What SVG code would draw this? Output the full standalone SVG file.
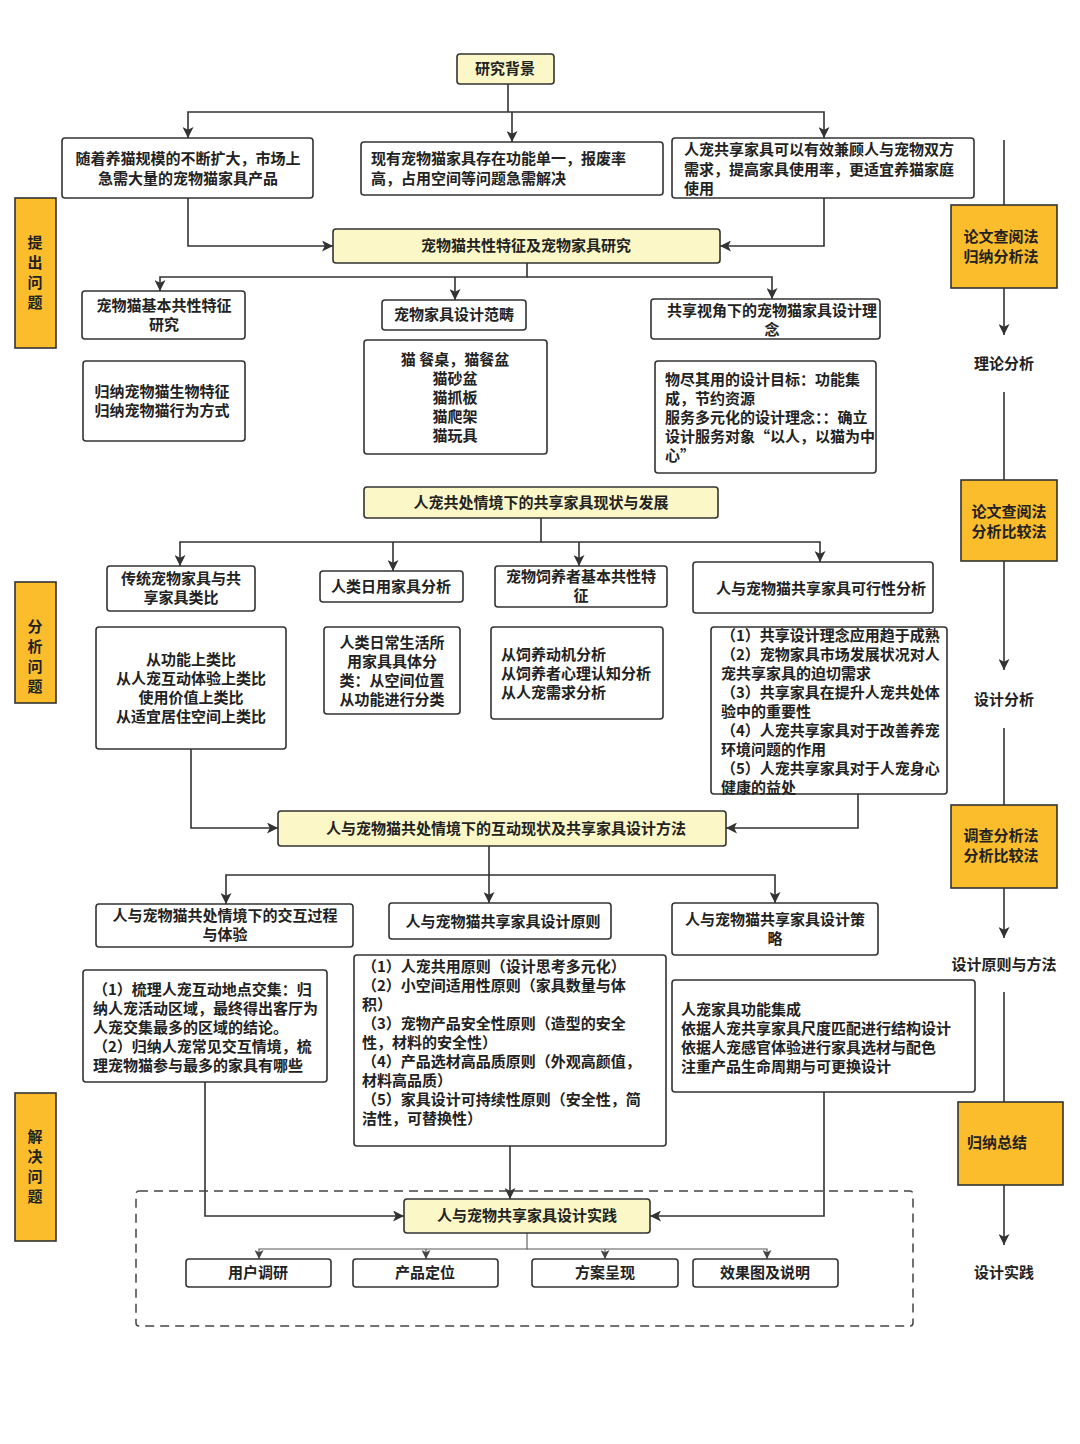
<svg xmlns="http://www.w3.org/2000/svg" width="1080" height="1444" viewBox="0 0 1080 1444">
<defs>
<style>
.bg{fill:#ffffff}
.box{fill:#ffffff;stroke:#333333;stroke-width:1.6}
.key{fill:#fbf7c6;stroke:#333333;stroke-width:1.6}
.side{fill:#fbbd2c;stroke:#333333;stroke-width:1.6}
.dash{fill:none;stroke:#444444;stroke-width:1.5;stroke-dasharray:9 6}
.ln{fill:none;stroke:#333333;stroke-width:1.6}
.ln2{fill:none;stroke:#555555;stroke-width:1.1}
text{font-family:"Noto Sans CJK SC","Noto Sans",sans-serif;font-weight:700;font-size:15px;fill:#222222}
.c{text-anchor:middle}
.s{font-size:15px}
</style>
<marker id="ah" viewBox="0 0 10 10" refX="10" refY="5" markerWidth="11" markerHeight="11" markerUnits="userSpaceOnUse" orient="auto">
<path d="M0,0 L10,5 L0,10 L2.5,5 z" fill="#333333"/>
</marker>
<marker id="ahs" viewBox="0 0 10 10" refX="10" refY="5" markerWidth="9" markerHeight="9" markerUnits="userSpaceOnUse" orient="auto">
<path d="M0,0 L10,5 L0,10 L2.5,5 z" fill="#444444"/>
</marker>
</defs>
<rect class="bg" x="0" y="0" width="1080" height="1444"/>

<g id="connectors">
<path class="ln" d="M508,84 V112"/>
<path class="ln" d="M508,112 H188 V138" marker-end="url(#ah)"/>
<path class="ln" d="M512,112 V142" marker-end="url(#ah)"/>
<path class="ln" d="M508,112 H824 V138" marker-end="url(#ah)"/>
<path class="ln" d="M188,198 V246 H333" marker-end="url(#ah)"/>
<path class="ln" d="M824,198 V246 H720" marker-end="url(#ah)"/>
<path class="ln" d="M527,263 V277 H160 V291" marker-end="url(#ah)"/>
<path class="ln" d="M455,277 V300" marker-end="url(#ah)"/>
<path class="ln" d="M527,277 H772 V299" marker-end="url(#ah)"/>
<path class="ln" d="M541,518 V542 H180 V566" marker-end="url(#ah)"/>
<path class="ln" d="M393,542 V571" marker-end="url(#ah)"/>
<path class="ln" d="M579,542 V566" marker-end="url(#ah)"/>
<path class="ln" d="M541,542 H820 V562" marker-end="url(#ah)"/>
<path class="ln" d="M191,749 V828 H278" marker-end="url(#ah)"/>
<path class="ln" d="M858,794 V828 H726" marker-end="url(#ah)"/>
<path class="ln" d="M489,846 V875 H226 V904" marker-end="url(#ah)"/>
<path class="ln" d="M489,875 V903" marker-end="url(#ah)"/>
<path class="ln" d="M489,875 H775 V903" marker-end="url(#ah)"/>
<path class="ln" d="M205,1082 V1216 H404" marker-end="url(#ah)"/>
<path class="ln" d="M510,1146 V1199" marker-end="url(#ah)"/>
<path class="ln" d="M824,1092 V1216 H650" marker-end="url(#ah)"/>
<path class="ln2" d="M527,1233 V1249 H259 V1259" marker-end="url(#ahs)"/>
<path class="ln2" d="M426,1249 V1259" marker-end="url(#ahs)"/>
<path class="ln2" d="M605,1249 V1259" marker-end="url(#ahs)"/>
<path class="ln2" d="M527,1249 H767 V1259" marker-end="url(#ahs)"/>
<path class="ln" d="M1004,140 V205"/>
<path class="ln" d="M1004,288 V335" marker-end="url(#ah)"/>
<path class="ln" d="M1004,392 V480"/>
<path class="ln" d="M1004,561 V670" marker-end="url(#ah)"/>
<path class="ln" d="M1004,728 V805"/>
<path class="ln" d="M1004,888 V938" marker-end="url(#ah)"/>
<path class="ln" d="M1004,992 V1102"/>
<path class="ln" d="M1004,1185 V1245" marker-end="url(#ah)"/>
</g>

<g id="practice-area">
<rect class="dash" x="136" y="1191" width="777" height="135" rx="3"/>
</g>

<g id="n-background">
<rect class="key" x="457" y="54" width="97" height="30" rx="3"/>
<text class="c" x="505" y="74">研究背景</text>
</g>
<g id="n-bg1">
<rect class="box" x="62" y="138" width="251" height="60" rx="3"/>
<text class="c" x="188" y="164">随着养猫规模的不断扩大，市场上</text>
<text class="c" x="188" y="184">急需大量的宠物猫家具产品</text>
</g>
<g id="n-bg2">
<rect class="box" x="361" y="142" width="302" height="53" rx="3"/>
<text x="371" y="164">现有宠物猫家具存在功能单一，报废率</text>
<text x="371" y="184">高，占用空间等问题急需解决</text>
</g>
<g id="n-bg3">
<rect class="box" x="672" y="138" width="302" height="60" rx="3"/>
<text x="684" y="155">人宠共享家具可以有效兼顾人与宠物双方</text>
<text x="684" y="175">需求，提高家具使用率，更适宜养猫家庭</text>
<text x="684" y="194">使用</text>
</g>
<g id="n-main1">
<rect class="key" x="333" y="229" width="387" height="34" rx="3"/>
<text class="c" x="526" y="251">宠物猫共性特征及宠物家具研究</text>
</g>
<g id="n-a1">
<rect class="box" x="82" y="291" width="163" height="48" rx="3"/>
<text class="c" x="164" y="311">宠物猫基本共性特征</text>
<text class="c" x="164" y="330">研究</text>
</g>
<g id="n-a2">
<rect class="box" x="382" y="300" width="144" height="30" rx="3"/>
<text class="c" x="454" y="320">宠物家具设计范畴</text>
</g>
<g id="n-a3">
<rect class="box" x="651" y="299" width="229" height="40" rx="3"/>
<text class="c" x="772" y="316">共享视角下的宠物猫家具设计理</text>
<text class="c" x="772" y="335">念</text>
</g>
<g id="n-a1c">
<rect class="box" x="83" y="361" width="162" height="80" rx="3"/>
<text class="c" x="162" y="397">归纳宠物猫生物特征</text>
<text class="c" x="162" y="416">归纳宠物猫行为方式</text>
</g>
<g id="n-a2c">
<rect class="box" x="364" y="340" width="183" height="114" rx="3"/>
<text class="c" x="455" y="365">猫 餐桌，猫餐盆</text>
<text class="c" x="455" y="384">猫砂盆</text>
<text class="c" x="455" y="403">猫抓板</text>
<text class="c" x="455" y="422">猫爬架</text>
<text class="c" x="455" y="441">猫玩具</text>
</g>
<g id="n-a3c">
<rect class="box" x="655" y="361" width="221" height="112" rx="3"/>
<text x="665" y="385">物尽其用的设计目标：功能集</text>
<text x="665" y="404">成，节约资源</text>
<text x="665" y="423">服务多元化的设计理念：：确立</text>
<text x="665" y="442">设计服务对象“以人，以猫为中</text>
<text x="665" y="461">心”</text>
</g>
<g id="n-main2">
<rect class="key" x="364" y="487" width="354" height="31" rx="3"/>
<text class="c" x="541" y="508">人宠共处情境下的共享家具现状与发展</text>
</g>
<g id="n-b1">
<rect class="box" x="107" y="566" width="148" height="45" rx="3"/>
<text class="c" x="181" y="584">传统宠物家具与共</text>
<text class="c" x="181" y="603">享家具类比</text>
</g>
<g id="n-b2">
<rect class="box" x="320" y="571" width="143" height="31" rx="3"/>
<text class="c" x="391" y="592">人类日用家具分析</text>
</g>
<g id="n-b3">
<rect class="box" x="495" y="566" width="172" height="41" rx="3"/>
<text class="c" x="581" y="582">宠物饲养者基本共性特</text>
<text class="c" x="581" y="601">征</text>
</g>
<g id="n-b4">
<rect class="box" x="693" y="562" width="240" height="51" rx="3"/>
<text class="c" x="821" y="594">人与宠物猫共享家具可行性分析</text>
</g>
<g id="n-b1c">
<rect class="box" x="96" y="627" width="190" height="122" rx="3"/>
<text class="c" x="191" y="665">从功能上类比</text>
<text class="c" x="191" y="684">从人宠互动体验上类比</text>
<text class="c" x="191" y="703">使用价值上类比</text>
<text class="c" x="191" y="722">从适宜居住空间上类比</text>
</g>
<g id="n-b2c">
<rect class="box" x="324" y="627" width="136" height="87" rx="3"/>
<text class="c" x="392" y="648">人类日常生活所</text>
<text class="c" x="392" y="667">用家具具体分</text>
<text class="c" x="392" y="686">类：从空间位置</text>
<text class="c" x="392" y="705">从功能进行分类</text>
</g>
<g id="n-b3c">
<rect class="box" x="491" y="627" width="172" height="92" rx="3"/>
<text x="501" y="660">从饲养动机分析</text>
<text x="501" y="679">从饲养者心理认知分析</text>
<text x="501" y="698">从人宠需求分析</text>
</g>
<g id="n-b4c">
<rect class="box" x="711" y="627" width="236" height="167" rx="3"/>
<text x="721" y="641">（1）共享设计理念应用趋于成熟</text>
<text x="721" y="660">（2）宠物家具市场发展状况对人</text>
<text x="721" y="679">宠共享家具的迫切需求</text>
<text x="721" y="698">（3）共享家具在提升人宠共处体</text>
<text x="721" y="717">验中的重要性</text>
<text x="721" y="736">（4）人宠共享家具对于改善养宠</text>
<text x="721" y="755">环境问题的作用</text>
<text x="721" y="774">（5）人宠共享家具对于人宠身心</text>
<text x="721" y="793">健康的益处</text>
</g>
<g id="n-main3">
<rect class="key" x="278" y="811" width="448" height="35" rx="3"/>
<text class="c" x="506" y="834">人与宠物猫共处情境下的互动现状及共享家具设计方法</text>
</g>
<g id="n-c1">
<rect class="box" x="96" y="904" width="257" height="43" rx="3"/>
<text class="c" x="225" y="921">人与宠物猫共处情境下的交互过程</text>
<text class="c" x="225" y="940">与体验</text>
</g>
<g id="n-c2">
<rect class="box" x="389" y="903" width="222" height="36" rx="3"/>
<text class="c" x="503" y="927">人与宠物猫共享家具设计原则</text>
</g>
<g id="n-c3">
<rect class="box" x="672" y="903" width="206" height="52" rx="3"/>
<text class="c" x="775" y="925">人与宠物猫共享家具设计策</text>
<text class="c" x="775" y="944">略</text>
</g>
<g id="n-c1c">
<rect class="box" x="83" y="970" width="244" height="112" rx="3"/>
<text x="93" y="995">（1）梳理人宠互动地点交集：归</text>
<text x="93" y="1014">纳人宠活动区域，最终得出客厅为</text>
<text x="93" y="1033">人宠交集最多的区域的结论。</text>
<text x="93" y="1052">（2）归纳人宠常见交互情境，梳</text>
<text x="93" y="1071">理宠物猫参与最多的家具有哪些</text>
</g>
<g id="n-c2c">
<rect class="box" x="354" y="955" width="312" height="191" rx="3"/>
<text x="362" y="972">（1）人宠共用原则（设计思考多元化）</text>
<text x="362" y="991">（2）小空间适用性原则（家具数量与体</text>
<text x="362" y="1010">积）</text>
<text x="362" y="1029">（3）宠物产品安全性原则（造型的安全</text>
<text x="362" y="1048">性，材料的安全性）</text>
<text x="362" y="1067">（4）产品选材高品质原则（外观高颜值，</text>
<text x="362" y="1086">材料高品质）</text>
<text x="362" y="1105">（5）家具设计可持续性原则（安全性，简</text>
<text x="362" y="1124">洁性，可替换性）</text>
</g>
<g id="n-c3c">
<rect class="box" x="672" y="980" width="303" height="112" rx="3"/>
<text x="681" y="1015">人宠家具功能集成</text>
<text x="681" y="1034">依据人宠共享家具尺度匹配进行结构设计</text>
<text x="681" y="1053">依据人宠感官体验进行家具选材与配色</text>
<text x="681" y="1072">注重产品生命周期与可更换设计</text>
</g>
<g id="n-practice">
<rect class="key" x="404" y="1199" width="246" height="34" rx="3"/>
<text class="c" x="527" y="1221">人与宠物共享家具设计实践</text>
</g>
<g id="n-d1">
<rect class="box" x="186" y="1259" width="145" height="28" rx="3"/>
<text class="c" x="258" y="1278">用户调研</text>
</g>
<g id="n-d2">
<rect class="box" x="353" y="1259" width="145" height="28" rx="3"/>
<text class="c" x="425" y="1278">产品定位</text>
</g>
<g id="n-d3">
<rect class="box" x="532" y="1259" width="146" height="28" rx="3"/>
<text class="c" x="605" y="1278">方案呈现</text>
</g>
<g id="n-d4">
<rect class="box" x="693" y="1259" width="145" height="28" rx="3"/>
<text class="c" x="765" y="1278">效果图及说明</text>
</g>

<g id="stage1">
<rect class="side" x="15" y="198" width="41" height="150"/>
<text class="c s" x="35" y="248">提</text>
<text class="c s" x="35" y="268">出</text>
<text class="c s" x="35" y="288">问</text>
<text class="c s" x="35" y="308">题</text>
</g>
<g id="stage2">
<rect class="side" x="15" y="582" width="41" height="121"/>
<text class="c s" x="35" y="632">分</text>
<text class="c s" x="35" y="652">析</text>
<text class="c s" x="35" y="672">问</text>
<text class="c s" x="35" y="692">题</text>
</g>
<g id="stage3">
<rect class="side" x="15" y="1093" width="41" height="148"/>
<text class="c s" x="35" y="1142">解</text>
<text class="c s" x="35" y="1162">决</text>
<text class="c s" x="35" y="1182">问</text>
<text class="c s" x="35" y="1202">题</text>
</g>

<g id="m1">
<rect class="side" x="951" y="205" width="106" height="83"/>
<text class="c s" x="1001" y="242">论文查阅法</text>
<text class="c s" x="1001" y="262">归纳分析法</text>
</g>
<g id="r1"><text class="c" x="1004" y="369">理论分析</text></g>
<g id="m2">
<rect class="side" x="961" y="480" width="96" height="81"/>
<text class="c s" x="1009" y="517">论文查阅法</text>
<text class="c s" x="1009" y="537">分析比较法</text>
</g>
<g id="r2"><text class="c" x="1004" y="705">设计分析</text></g>
<g id="m3">
<rect class="side" x="951" y="805" width="106" height="83"/>
<text class="c s" x="1001" y="841">调查分析法</text>
<text class="c s" x="1001" y="861">分析比较法</text>
</g>
<g id="r3"><text class="c" x="1004" y="970">设计原则与方法</text></g>
<g id="m4">
<rect class="side" x="958" y="1102" width="105" height="83"/>
<text x="967" y="1148">归纳总结</text>
</g>
<g id="r4"><text class="c" x="1004" y="1278">设计实践</text></g>
</svg>
